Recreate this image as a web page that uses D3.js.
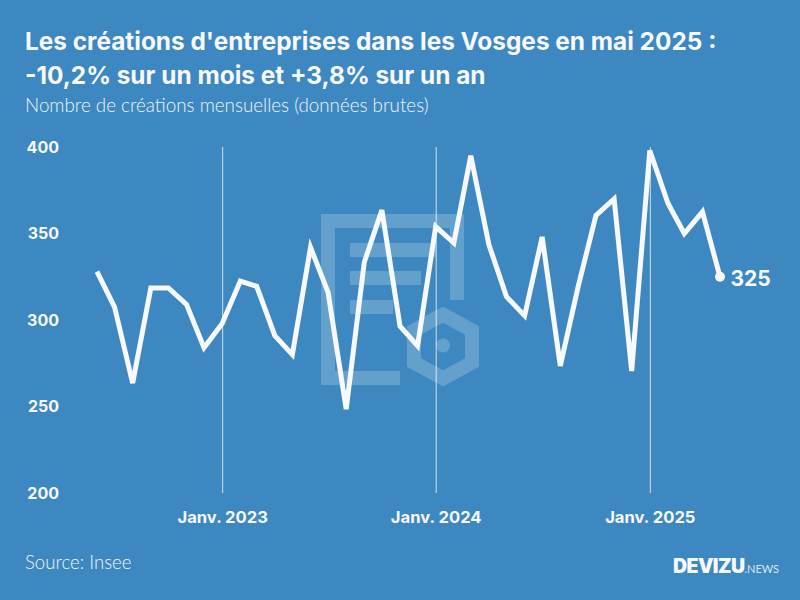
<!DOCTYPE html>
<html>
<head>
<meta charset="utf-8">
<script src="https://cdn.jsdelivr.net/npm/d3@7"></script>
<style>
  html, body { margin: 0; padding: 0; background: #3d88c0; }
  svg { display: block; }
  text { font-family: Inter, sans-serif; fill: #f8f8ff; }
</style>
</head>
<body>
<svg id="chart" width="800" height="600"></svg>
<script>
// monthly values, June 2022 to May 2025
var startYear = 2022;
var startMonth = 5;
var values = [328, 307.5, 263.5, 318.5, 318.5, 309, 284, 298, 322.5, 319.5, 291, 280,
  342, 316, 248.5, 333.5, 363.5, 296.5, 285, 354, 344.5, 395, 343.5, 313.5,
  302.5, 348, 273.5, 320, 360.5, 370, 270.5, 398, 367.5, 350, 362.5, 325];
var yTicks = [200, 250, 300, 350, 400];
var xTickYears = [2023, 2024, 2025];
var titleLines = ["Les créations d'entreprises dans les Vosges en mai 2025 :", "-10,2% sur un mois et +3,8% sur un an"];
var subtitle = "Nombre de créations mensuelles (données brutes)";
var source = "Source: Insee";

var svg = d3.select("#chart");
var top_ = 147, bottom = 493;

var months = values.map(function(d, i) { return new Date(startYear, startMonth + i, 1); });
var x = d3.scaleTime().domain([months[0], months[months.length - 1]]).range([97, 720]);
var y = d3.scaleLinear().domain([200, 400]).range([bottom, top_]);

// watermark logo behind the chart
var logo = svg.append("g").attr("fill", "#fff").attr("opacity", 0.2);
logo.append("path")
  .attr("fill-rule", "evenodd")
  .attr("d", "M321,214H464V300H450V228H335V371H400V385H321Z");
logo.append("rect").attr("x", 350).attr("y", 243).attr("width", 86).attr("height", 14);
logo.append("rect").attr("x", 350).attr("y", 271).attr("width", 71).attr("height", 14);
logo.append("rect").attr("x", 350).attr("y", 300).attr("width", 43).attr("height", 14);
logo.append("path")
  .attr("fill", "none")
  .attr("stroke", "#fff")
  .attr("stroke-width", 14)
  .attr("d", "M443,314.5L472,330.5V362.5L443,378.5L414,362.5V330.5Z");
logo.append("circle").attr("cx", 443).attr("cy", 345.5).attr("r", 7);

// titles
svg.selectAll(".title").data(titleLines).enter().append("text")
  .attr("class", "title")
  .attr("x", 25)
  .attr("y", function(d, i) { return 50 + i * 34; })
  .style("font-size", "24.4px")
  .style("font-weight", 700)
  .text(function(d) { return d; });
svg.append("text").attr("x", 25).attr("y", 112)
  .style("font-family", "Lato, sans-serif").style("font-weight", 300)
  .style("font-size", "18.8px").style("fill", "#f0f5fa").text(subtitle);

// x axis, the ticks are the january lines
var xAxis = d3.axisBottom(x)
  .tickValues(xTickYears.map(function(d) { return new Date(d, 0, 1); }))
  .tickSizeInner(-(bottom - top_))
  .tickSizeOuter(0)
  .tickPadding(18)
  .tickFormat(function(d) { return "Janv. " + d.getFullYear(); });
var gx = svg.append("g").attr("transform", "translate(0," + bottom + ")").call(xAxis);
gx.select(".domain").remove();
gx.selectAll("line").attr("stroke", "#fff").attr("stroke-opacity", 0.75);
gx.selectAll("text").style("font-family", "Inter, sans-serif").style("font-size", "16.6px").style("font-weight", 700).style("fill", "#f8f8ff");

// y axis, labels only
var yAxis = d3.axisLeft(y).tickValues(yTicks).tickSize(0).tickPadding(0);
var gy = svg.append("g").attr("transform", "translate(59,0)").call(yAxis);
gy.select(".domain").remove();
gy.selectAll("text").style("font-family", "Inter, sans-serif").style("font-size", "16px").style("font-weight", 700).style("fill", "#f8f8ff");

// series
var line = d3.line()
  .x(function(d, i) { return x(months[i]); })
  .y(function(d) { return y(d); });
svg.append("path").datum(values)
  .attr("fill", "none")
  .attr("stroke", "#f8f8ff")
  .attr("stroke-width", 5)
  .attr("stroke-linejoin", "miter")
  .attr("d", line);

var last = values.length - 1;
svg.append("circle")
  .attr("cx", x(months[last])).attr("cy", y(values[last])).attr("r", 5)
  .attr("fill", "#f8f8ff");
svg.append("text")
  .attr("x", x(months[last]) + 10.5).attr("y", y(values[last]) + 9)
  .style("font-size", "21px").style("font-weight", 700)
  .text(values[last]);

// footer
svg.append("text").attr("x", 25).attr("y", 569)
  .style("font-family", "Lato, sans-serif").style("font-weight", 300)
  .style("font-size", "18.6px").style("fill", "#f0f5fa").text(source);
var brand = svg.append("text").attr("x", 673).attr("y", 573);
brand.append("tspan").style("font-size", "19.5px").style("font-weight", 900).attr("textLength", 72).text("DEVIZU");
brand.append("tspan").style("font-family", "'Liberation Sans Narrow', Lato, sans-serif").style("font-size", "11px").style("fill", "#d8e7f2").text(".NEWS");
</script>
</body>
</html>
